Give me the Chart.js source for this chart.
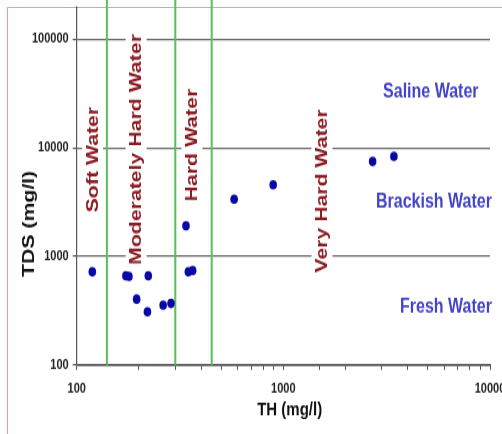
<!DOCTYPE html>
<html>
<head>
<meta charset="utf-8">
<script src="https://cdn.jsdelivr.net/npm/chart.js@4"></script>
<style>
  html, body { margin: 0; padding: 0; background: #fff; overflow: hidden; }
  #frame {
    position: fixed; left: 7px; top: 7px; right: 0; bottom: 0;
    border-left: 1px solid #f29a9a; border-top: 1px solid #f29a9a;
  }
  /* the reference is stretched vertically, so the chart is drawn short and scaled */
  #chart {
    position: absolute; left: 0; top: 0;
    transform: scaleY(1.2507); transform-origin: 0 0;
  }
</style>
</head>
<body>
<div id="frame"></div>
<canvas id="chart" width="502" height="347"></canvas>
<script>
// total hardness vs total dissolved solids, one point per sample
const thValues  = [119, 173, 179, 222, 195, 220, 262, 286, 338, 347, 364, 578, 893, 2704, 3428];
const tdsValues = [721, 663, 654, 663, 404, 309, 356, 369, 1914, 721, 743, 3373, 4565, 7497, 8337];

// hardness class limits (mg/l)
const hardnessLimits = [140, 300, 450];

const xTickValues = [100, 1000, 10000];
const yTickValues = [100, 1000, 10000, 100000];

const hardnessLabels = ['Soft Water', 'Moderately Hard Water', 'Hard Water', 'Very Hard Water'];
const salinityLabels = ['Saline Water', 'Brackish Water', 'Fresh Water'];

// where the zone labels sit, in data units (TH, TDS)
const hardnessLabelPos = [[120, 7810], [195, 9660], [363, 10600], [1546, 4010]];
const salinityLabelPos = [[5170, 32650], [5354, 3170], [6124, 341]];

const FONT = '"Liberation Sans", Arial, sans-serif';

const zoneLabels = {
    id: 'zoneLabels',
    beforeDatasetsDraw(chart) {
        const { ctx, scales: { x, y } } = chart;
        ctx.save();
        ctx.font = 'bold 17px ' + FONT;
        ctx.textAlign = 'center';
        ctx.textBaseline = 'middle';
        hardnessLabels.forEach((txt, i) => {
            const px = x.getPixelForValue(hardnessLabelPos[i][0]);
            const py = y.getPixelForValue(hardnessLabelPos[i][1]);
            const w = ctx.measureText(txt).width;
            ctx.save();
            ctx.translate(px, py);
            ctx.rotate(-Math.PI / 2);
            ctx.fillStyle = '#fff';
            ctx.fillRect(-w / 2 - 3, -11, w + 6, 21);
            ctx.fillStyle = '#8c1c24';
            ctx.fillText(txt, 0, 0);
            ctx.restore();
        });

        ctx.font = 'bold 16px ' + FONT;
        ctx.fillStyle = '#4343c8';
        salinityLabels.forEach((txt, i) => {
            ctx.fillText(txt, x.getPixelForValue(salinityLabelPos[i][0]),
                y.getPixelForValue(salinityLabelPos[i][1]));
        });
        ctx.restore();
    },
    afterDraw(chart) {
        const { ctx, chartArea } = chart;
        ctx.save();
        ctx.fillStyle = '#111';
        ctx.textAlign = 'center';
        ctx.textBaseline = 'middle';

        // axis titles
        ctx.font = 'bold 15px ' + FONT;
        ctx.fillText('TH (mg/l)', chartArea.left + 213, chartArea.bottom + 36);

        ctx.font = 'bold 17px ' + FONT;
        ctx.translate(chartArea.left - 47, 179);
        ctx.rotate(-Math.PI / 2);
        ctx.fillText('TDS (mg/l)', 0, 0);
        ctx.restore();
    }
};

const limitLines = hardnessLimits.map(v => ({
    type: 'line',
    data: [{ x: v, y: 100 }, { x: v, y: 250000 }],
    borderColor: '#58c058',
    borderWidth: 2,
    pointRadius: 0,
    clip: false
}));

new Chart(document.getElementById('chart'), {
    type: 'scatter',
    data: {
        datasets: [{
            label: 'samples',
            data: thValues.map((v, i) => ({ x: v, y: tdsValues[i] })),
            backgroundColor: '#0808a6',
            borderColor: '#0808a6',
            pointRadius: 3.8,
            pointBorderWidth: 0
        }, ...limitLines]
    },
    options: {
        responsive: false,
        animation: false,
        layout: { padding: { left: 0, right: 12, top: 5.3, bottom: 0 } },
        plugins: {
            legend: { display: false },
            tooltip: { enabled: false }
        },
        scales: {
            x: {
                type: 'logarithmic',
                min: 100,
                max: 10000,
                grid: {
                    drawOnChartArea: false,
                    drawTicks: true,
                    tickLength: 4,
                    tickColor: '#555'
                },
                border: { color: '#444', width: 1.5 },
                ticks: {
                    autoSkip: false,
                    maxRotation: 0,
                    padding: 9,
                    color: '#222',
                    font: { family: FONT, size: 11, weight: 'bold' },
                    callback: v => xTickValues.includes(v) ? String(v) : ''
                },
                afterFit(scale) {
                    scale.height = 55.2;
                    scale.paddingLeft = 0;
                    scale.paddingRight = 0;
                }
            },
            y: {
                type: 'logarithmic',
                min: 100,
                max: 200000,
                afterBuildTicks(scale) {
                    scale.ticks = yTickValues.map(v => ({ value: v }));
                },
                grid: {
                    color: '#666',
                    lineWidth: 1.2,
                    drawTicks: true,
                    tickLength: 4,
                    tickColor: '#555'
                },
                border: { color: '#555', width: 1.2 },
                ticks: {
                    padding: 4,
                    color: '#222',
                    font: { family: FONT, size: 11, weight: 'bold' },
                    callback: v => String(v)
                },
                afterFit(scale) {
                    scale.width = 76.7;
                    scale.paddingTop = 0;
                    scale.paddingBottom = 0;
                }
            }
        }
    },
    plugins: [zoneLabels]
});
</script>
</body>
</html>
